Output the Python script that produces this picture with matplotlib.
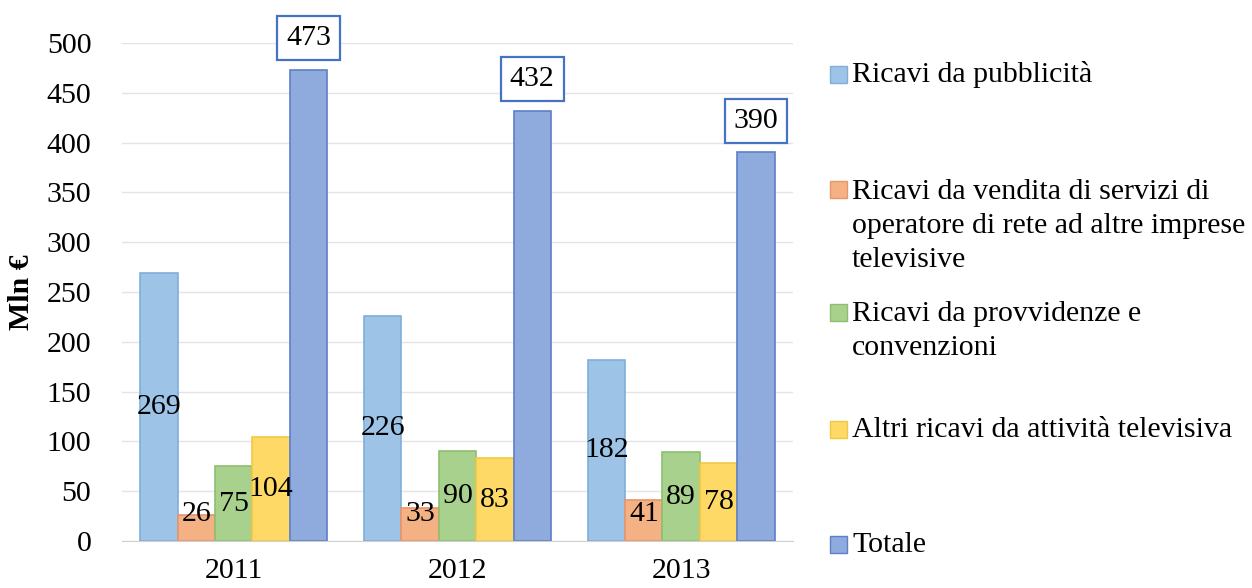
import numpy as np
import matplotlib
matplotlib.use("Agg")
import matplotlib.pyplot as plt
from matplotlib.patches import Rectangle

plt.rcParams['font.family'] = ['Liberation Serif', 'DejaVu Serif']

anni = ["2011", "2012", "2013"]
pubblicita = [269, 226, 182]
servizi_rete = [26, 33, 41]
provvidenze = [75, 90, 89]
altri = [104, 83, 78]
totale = [473, 432, 390]

serie = [pubblicita, servizi_rete, provvidenze, altri, totale]
etichette = ["Ricavi da pubblicità",
             "Ricavi da vendita di servizi di\noperatore di rete ad altre imprese\ntelevisive",
             "Ricavi da provvidenze e\nconvenzioni",
             "Altri ricavi da attività televisiva",
             "Totale"]
colori = ["#9DC3E6", "#F4B183", "#A9D18E", "#FFD966", "#8FAADC"]
bordi = ["#7FAEDB", "#E9946A", "#8DBE6E", "#F2C744", "#5B7FCB"]

fig = plt.figure(figsize=(12.52, 5.88), dpi=100)
ax = fig.add_axes([0.0974, 0.080, 0.536, 0.847])

x = np.arange(len(anni))
w = 0.167
fs = 21.5
for i, (vals, col, ec) in enumerate(zip(serie, colori, bordi)):
    pos = x + (i - 2) * w
    ax.bar(pos, vals, w, color=col, edgecolor=ec, linewidth=1.2, zorder=2)
    for p, v in zip(pos, vals):
        if i == 4:
            ax.annotate(str(v), (p, v), xytext=(0, 23), textcoords="offset points",
                        ha="center", va="center", fontsize=fs, zorder=4,
                        bbox=dict(boxstyle="square,pad=0.3", fc="white", ec="#4472C4", lw=1.6))
        else:
            ax.text(p, max(v / 2.0, 27), str(v), ha="center", va="center",
                    fontsize=fs, zorder=3)

ax.set_xlim(-0.5, 2.5)
ax.set_ylim(0, 500)
ax.set_yticks(np.arange(0, 501, 50))
ax.set_xticks(x)
ax.set_xticklabels(anni)
ax.tick_params(axis="both", length=0, labelsize=fs)
ax.tick_params(axis="x", pad=12)
ax.tick_params(axis="y", pad=22)
ax.grid(axis="y", color="#E4E4E4", linewidth=1, zorder=0)
for s in ["top", "right", "left"]:
    ax.spines[s].set_visible(False)
ax.spines["bottom"].set_color("#D0D0D0")
ax.set_ylabel("Mln €", fontsize=fs, fontweight="bold")
ax.yaxis.set_label_coords(-0.13, 0.5)

# legenda
legend_y = [75, 226, 331, 430, 545]
for col, ec, lab, yc in zip(colori, bordi, etichette, legend_y):
    nlin = lab.count("\n") + 1
    ytop = yc - (nlin - 1) * 36 / 2.0
    fig.patches.append(Rectangle((830 / 1252, 1 - (ytop + 8) / 588), 17 / 1252, 17 / 588,
                                 transform=fig.transFigure, fc=col, ec=ec, lw=1))
    fig.text(852 / 1252, 1 - yc / 588, lab, ha="left", va="center",
             fontsize=fs, linespacing=1.4)

fig.savefig("out.png", dpi=100)
